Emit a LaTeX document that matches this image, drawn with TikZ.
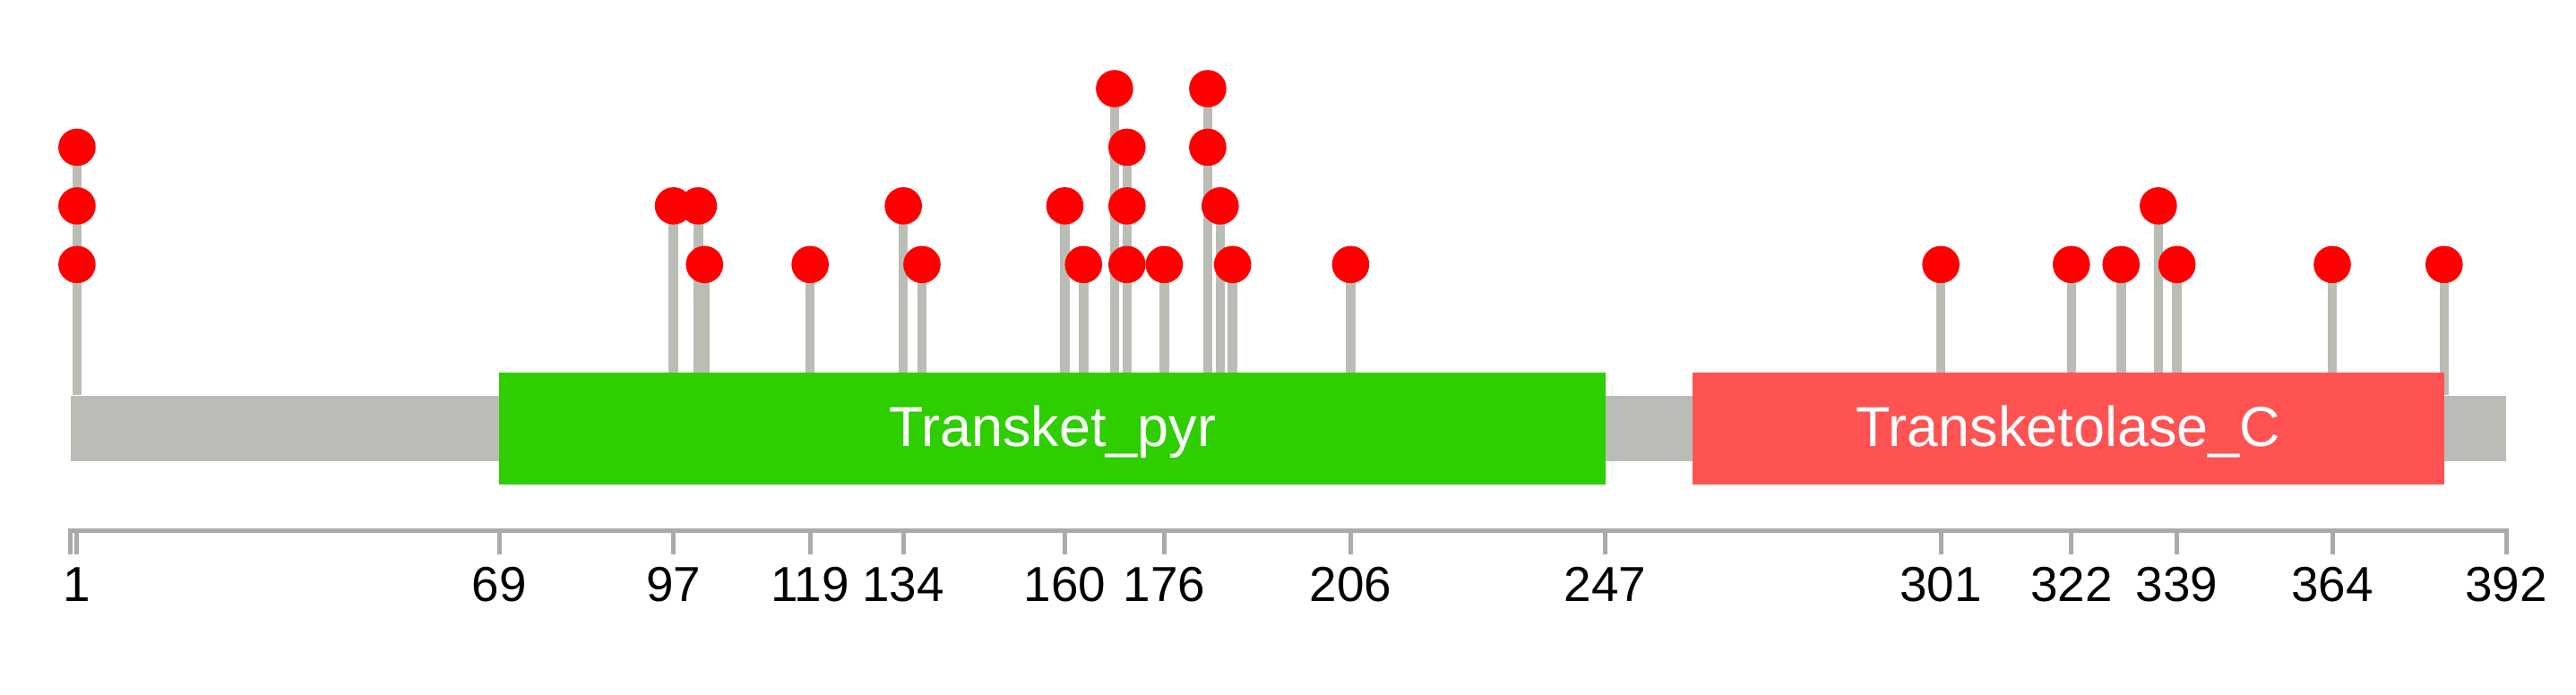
\documentclass[tikz,border=0pt]{standalone}
\usepackage{fontspec}
\setmainfont{Liberation Sans}
\usepackage{tikz}
\usetikzlibrary{positioning, backgrounds, calc}
\definecolor{ChainGray}{RGB}{186, 189, 182}
\definecolor{AxisGray}{RGB}{170, 170, 170}
\definecolor{PyrGreen}{RGB}{46, 206, 0}
\definecolor{CtermRed}{RGB}{255, 83, 83}
\definecolor{MutRed}{RGB}{255, 0, 0}

\begin{document}
\begin{tikzpicture}[
        x=0.06934cm, y=-0.01cm,
        backbone/.style={rectangle, fill=ChainGray, inner sep=0pt, minimum width=27.181cm, minimum height=0.73cm},
        pfambox/.style={rectangle, inner sep=0pt, minimum height=1.255cm, text height=0.5cm, text depth=0.1cm, text=white, font=\fontsize{17.9}{20}\selectfont},
        stem/.style={line width=0.105cm, ChainGray},
        lolli/.style={circle, fill=MutRed, inner sep=0pt, minimum size=0.416cm},
        axis/.style={line width=0.05cm, AxisGray},
        ticklabel/.style={anchor=base, inner sep=0pt, font=\fontsize{15.6}{18}\selectfont}
    ]
        \useasboundingbox (-11.393, 0) rectangle (403.23, 776);

        % protein chain and domains
        \node (chain) [backbone] at (196, 478.5) {};
        \node (pyr) [pfambox, fill=PyrGreen, minimum width=12.343cm] at (158, 478.75) {Transket\_pyr};
        \node (cterm) [pfambox, fill=CtermRed, minimum width=8.390cm] at (321.5, 478.75) {Transketolase\_C};

        % mutation heads
        \node (p1a) [lolli] at (1, 295.5) {};
        \node (p1b) [lolli] at (1, 230) {};
        \node (p1c) [lolli] at (1, 164.5) {};
        \node (p97) [lolli] at (97, 230) {};
        \node (p101) [lolli] at (101, 230) {};
        \node (p102) [lolli] at (102, 295.5) {};
        \node (p119) [lolli] at (119, 295.5) {};
        \node (p134) [lolli] at (134, 230) {};
        \node (p137) [lolli] at (137, 295.5) {};
        \node (p160) [lolli] at (160, 230) {};
        \node (p163) [lolli] at (163, 295.5) {};
        \node (p168) [lolli] at (168, 99) {};
        \node (p170a) [lolli] at (170, 295.5) {};
        \node (p170b) [lolli] at (170, 230) {};
        \node (p170c) [lolli] at (170, 164.5) {};
        \node (p176) [lolli] at (176, 295.5) {};
        \node (p183a) [lolli] at (183, 164.5) {};
        \node (p183b) [lolli] at (183, 99) {};
        \node (p185) [lolli] at (185, 230) {};
        \node (p187) [lolli] at (187, 295.5) {};
        \node (p206) [lolli] at (206, 295.5) {};
        \node (p301) [lolli] at (301, 295.5) {};
        \node (p322) [lolli] at (322, 295.5) {};
        \node (p330) [lolli] at (330, 295.5) {};
        \node (p336) [lolli] at (336, 230) {};
        \node (p339) [lolli] at (339, 295.5) {};
        \node (p364) [lolli] at (364, 295.5) {};
        \node (p382) [lolli] at (382, 295.5) {};

        % stems, behind everything
        \begin{scope}[on background layer]
            \draw [stem] (p1c.center) -- (p1c.center |- chain.north);
            \draw [stem] (p97.center) -- (p97.center |- chain.north);
            \draw [stem] (p101.center) -- (p101.center |- chain.north);
            \draw [stem] (p102.center) -- (p102.center |- chain.north);
            \draw [stem] (p119.center) -- (p119.center |- chain.north);
            \draw [stem] (p134.center) -- (p134.center |- chain.north);
            \draw [stem] (p137.center) -- (p137.center |- chain.north);
            \draw [stem] (p160.center) -- (p160.center |- chain.north);
            \draw [stem] (p163.center) -- (p163.center |- chain.north);
            \draw [stem] (p168.center) -- (p168.center |- chain.north);
            \draw [stem] (p170c.center) -- (p170c.center |- chain.north);
            \draw [stem] (p176.center) -- (p176.center |- chain.north);
            \draw [stem] (p183b.center) -- (p183b.center |- chain.north);
            \draw [stem] (p185.center) -- (p185.center |- chain.north);
            \draw [stem] (p187.center) -- (p187.center |- chain.north);
            \draw [stem] (p206.center) -- (p206.center |- chain.north);
            \draw [stem] (p301.center) -- (p301.center |- chain.north);
            \draw [stem] (p322.center) -- (p322.center |- chain.north);
            \draw [stem] (p330.center) -- (p330.center |- chain.north);
            \draw [stem] (p336.center) -- (p336.center |- chain.north);
            \draw [stem] (p339.center) -- (p339.center |- chain.north);
            \draw [stem] (p364.center) -- (p364.center |- chain.north);
            \draw [stem] (p382.center) -- (p382.center |- chain.north);
        \end{scope}

        % ruler
        \draw [axis] (0, 619) -- (0, 593) -- (392, 593) -- (392, 619);
        \foreach \p in {1, 69, 97, 119, 134, 160, 176, 206, 247, 301, 322, 339, 364} {
            \draw [axis] (\p, 593) -- (\p, 619);
        }
        \foreach \p in {1, 69, 97, 119, 134, 160, 176, 206, 247, 301, 322, 339, 364, 392} {
            \node (t\p) [ticklabel] at (\p, 672) {\p};
        }
    \end{tikzpicture}
\end{document}
